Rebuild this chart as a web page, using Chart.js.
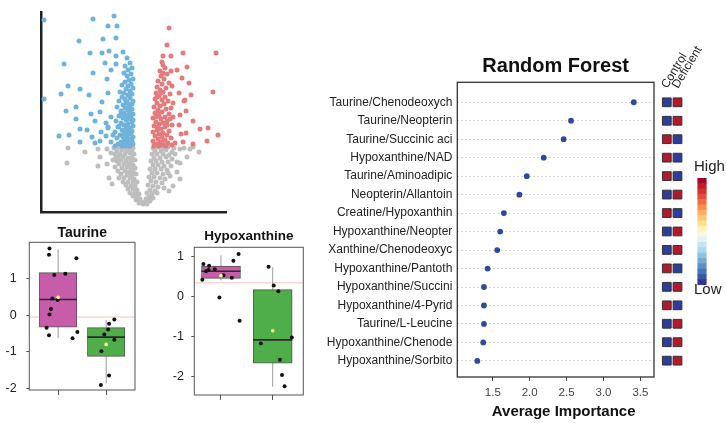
<!DOCTYPE html>
<html><head><meta charset="utf-8">
<script src="https://cdn.jsdelivr.net/npm/chart.js@4"></script>
<style>
html,body{margin:0;padding:0;background:#fff;width:726px;height:423px;overflow:hidden;position:relative;}
canvas{position:absolute;}
</style></head><body>
<canvas id="volcano" style="left:0;top:0" width="240" height="225"></canvas>
<canvas id="taurine" style="left:0;top:225px" width="164" height="175"></canvas>
<canvas id="hypox" style="left:165px;top:228px" width="166" height="177"></canvas>
<canvas id="rf" style="left:320px;top:50px" width="336" height="371"></canvas>
<canvas id="heat" style="left:650px;top:30px" width="60" height="350"></canvas>
<canvas id="cbar" style="left:694px;top:157px" width="32" height="142"></canvas>
<script>
// ---------------- DATA ----------------
// Volcano plot: [log2 fold change, -log10 p]
const volcanoUp = [[2.6,18.4],[2.4,16.7],[2.0,15.6],[2.8,15.6],[4.0,15.9],[7.3,15.9],[2.0,14.7],[4.4,14.5],[2.8,14.1],[3.4,14.2],[3.9,13.4],[4.6,12.9],[7.0,12.0],[3.6,11.9],[4.8,11.7],[4.2,11.2],[4.3,10.1],[5.0,9.1],[5.7,8.3],[6.5,8.4],[7.5,7.7],[6.4,7.1],[5.0,6.8],[3.8,7.8],[4.3,7.9],[3.0,10.9],[4.1,11.1],[3.7,9.7],[3.6,8.7],[4.0,7.0],[3.2,6.9],[2.9,12.6],[3.0,9.5],
[1.9,15.0],[2.2,14.4],[1.7,14.1],[2.4,13.8],[1.8,13.6],[2.1,13.3],[1.5,13.1],[2.6,12.9],[1.9,12.8],[1.4,12.5],[2.3,12.4],[1.7,12.2],[2.0,12.0],[1.3,11.9],[2.7,11.8],[1.6,11.6],[2.2,11.5],[1.2,11.3],[1.9,11.2],[2.5,11.1],[1.4,10.9],[2.1,10.8],[1.7,10.6],[1.1,10.5],[2.8,10.4],[2.3,10.3],[1.5,10.2],[1.9,10.0],[1.2,9.9],[2.6,9.8],[1.6,9.6],[2.2,9.5],[1.0,9.4],[1.8,9.3],[2.4,9.1],[1.3,9.0],[2.0,8.9],[1.6,8.8],[2.9,8.7],[1.1,8.6],[2.2,8.5],[1.8,8.3],[1.4,8.2],[2.6,8.1],[1.0,8.0],[2.0,7.9],[1.6,7.8],[2.4,7.7],[1.2,7.6],[1.9,7.5],[2.8,7.4],[1.5,7.3],[2.2,7.2],[1.0,7.1],[1.7,7.0],[2.5,6.9],[1.3,6.8],[2.0,6.7],[1.1,6.6],[1.6,6.6],[2.3,6.6],[2.9,6.7],[1.4,11.5],[2.0,13.9],[1.6,10.0],[2.1,7.2],[1.8,11.9],[2.4,8.7],[1.3,9.5],[2.7,9.3],[1.5,8.5]];
const volcanoDown = [[-4.8,20.6],[-9.9,19.2],[-5.0,19.3],[-2.9,19.6],[-3.5,18.6],[-2.6,18.6],[-6.4,17.1],[-4.0,17.3],[-2.7,17.4],[-5.3,15.9],[-4.1,15.9],[-3.4,16.1],[-2.7,15.6],[-2.0,16.0],[-7.9,14.8],[-3.8,14.9],[-2.7,14.8],[-5.0,13.9],[-3.2,14.2],[-3.6,13.3],[-7.5,12.6],[-6.3,12.3],[-8.2,11.8],[-5.4,11.7],[-3.5,11.9],[-9.9,11.3],[-4.1,11.0],[-6.7,10.5],[-7.7,10.1],[-5.2,9.8],[-4.3,10.0],[-6.7,9.3],[-4.8,9.1],[-3.7,8.9],[-6.3,8.3],[-5.6,8.2],[-3.5,8.4],[-8.4,7.6],[-7.4,7.7],[-5.1,7.5],[-4.2,8.0],[-3.7,7.6],[-6.3,7.0],[-4.8,6.9],[-4.3,7.1],[-3.0,7.7],[-3.2,7.0],[-3.2,9.5],[-3.5,8.5],
[-1.6,15.4],[-1.3,14.9],[-1.8,14.6],[-1.1,14.4],[-1.5,14.2],[-1.9,13.9],[-1.2,13.8],[-1.6,13.6],[-1.0,13.3],[-1.4,13.2],[-1.8,13.0],[-1.2,12.8],[-2.1,12.7],[-1.5,12.6],[-1.0,12.4],[-1.7,12.3],[-1.3,12.1],[-2.3,12.0],[-1.9,11.9],
[-1.1,11.8],[-1.5,11.7],[-2.1,11.5],[-1.3,11.4],[-1.8,11.3],[-2.4,11.1],[-1.0,11.1],[-1.6,11.0],[-1.2,10.8],[-2.0,10.7],[-1.4,10.6],[-2.6,10.5],[-1.8,10.4],[-1.1,10.3],[-1.5,10.2],[-2.2,10.1],[-1.3,10.0],[-1.9,9.9],[-1.0,9.8],[-1.6,9.7],[-2.4,9.6],[-1.2,9.5],[-2.0,9.4],
[-1.4,9.3],[-1.7,9.2],[-2.7,9.1],[-1.1,9.0],[-2.2,8.9],[-1.5,8.8],[-1.9,8.7],[-1.0,8.6],[-2.5,8.5],[-1.3,8.4],[-1.7,8.3],[-2.1,8.2],[-1.1,8.1],[-2.8,8.0],[-1.5,8.0],[-1.9,7.9],[-1.2,7.8],[-2.3,7.7],[-1.6,7.6],[-1.0,7.5],[-2.0,7.5],[-2.6,7.4],[-1.4,7.3],[-1.8,7.2],[-1.1,7.1],[-2.2,7.0],[-1.5,6.9],[-2.5,6.8],[-1.0,6.8],[-1.9,6.7],[-1.3,6.6],[-2.8,6.6],[-1.7,6.6],[-2.1,6.6],[-1.2,7.3],[-1.6,8.5],[-2.4,8.6],[-1.3,9.9],[-1.8,9.5],[-1.1,10.8],[-2.0,6.9],[-1.4,7.9],[-1.0,9.2],[-2.2,9.8],[-1.7,10.9],[-1.2,6.9]];
const volcanoNS = [[-7.5,6.4],[-7.6,4.9],[-5.8,6.0],[-4.5,6.3],[-4.5,4.6],[-3.6,6.3],[-3.6,4.8],[-3.4,3.4],[-4.3,5.5],[-3.1,2.8],[5.6,6.0],[4.7,6.3],[4.4,5.5],[3.7,4.9],[3.4,4.0],[3.7,3.3],[4.1,6.4],[3.0,2.6],[2.6,2.1],[5.0,6.5],
[-2.9,6.4],[-2.4,6.5],[-1.9,6.4],[-1.4,6.5],[-1.0,6.4],[-2.6,6.1],[-2.1,6.2],[-1.6,6.1],[-1.2,6.2],[-3.2,5.9],[-2.8,5.8],[-2.3,5.8],[-1.8,5.8],[-1.3,5.9],[-0.9,5.8],[-2.5,5.5],[-2.0,5.5],[-1.5,5.4],[-1.1,5.5],[-3.0,5.2],[-2.6,5.1],[-2.2,5.2],[-1.7,5.1],[-1.2,5.1],[-0.8,5.2],[-2.4,4.8],[-1.9,4.8],[-1.4,4.8],[-1.0,4.7],[-2.8,4.5],[-2.1,4.4],[-1.6,4.5],[-1.2,4.4],[-0.8,4.4],[-2.5,4.1],[-1.8,4.1],[-1.4,4.0],[-1.0,4.1],[-2.2,3.8],[-1.6,3.7],[-1.1,3.7],[-0.7,3.8],[-2.4,3.4],[-1.9,3.4],[-1.3,3.4],[-0.9,3.3],[-2.0,3.0],[-1.5,3.0],[-1.0,3.0],[-0.6,3.0],[-1.7,2.7],[-1.2,2.6],[-0.8,2.6],[-1.5,2.3],[-1.0,2.3],[-0.6,2.2],[-1.3,1.9],[-0.8,1.9],[-0.4,1.8],[-1.0,1.6],[-0.6,1.5],[-0.3,1.3],[-0.7,1.2],[-0.2,1.0],[-0.4,0.9],[0.0,0.8],[-2.0,6.8],[-1.5,6.8],[-1.1,6.0],[-2.7,5.4],
[1.0,6.4],[1.5,6.5],[2.0,6.4],[2.5,6.5],[3.1,6.4],[3.7,6.3],[1.2,6.1],[1.8,6.1],[2.3,6.2],[2.9,6.0],[0.9,5.8],[1.4,5.8],[2.0,5.8],[2.6,5.7],[3.2,5.8],[1.1,5.4],[1.7,5.4],[2.3,5.5],[2.9,5.3],[0.8,5.1],[1.3,5.1],[1.9,5.0],[2.5,5.0],[1.0,4.7],[1.5,4.7],[2.1,4.6],[2.8,4.6],[0.7,4.3],[1.2,4.3],[1.8,4.3],[2.4,4.2],[0.9,3.9],[1.4,3.9],[2.0,3.8],[2.7,3.6],[0.6,3.5],[1.1,3.5],[1.7,3.4],[2.2,3.3],[0.8,3.1],[1.3,3.0],[1.9,2.9],[0.5,2.7],[1.0,2.6],[1.5,2.5],[2.1,2.4],[0.7,2.2],[1.2,2.1],[0.4,1.9],[0.9,1.8],[1.4,1.9],[0.6,1.5],[1.0,1.4],[0.3,1.3],[0.7,1.1],[0.2,1.0],[0.4,0.8],[0.1,0.9],[1.6,6.8],[2.2,6.8],[1.1,6.8],[3.4,5.0],[2.5,3.9]];

// Box plots: stats = [lower whisker, Q1, median, Q3, upper whisker]
const boxGroups = ['Control', 'Deficient'];
const taurineCtrlStats = [-0.63, -0.33, 0.43, 1.17, 1.81];
const taurineDefStats  = [-1.87, -1.13, -0.60, -0.34, -0.13];
const taurineMeans = [0.49, -0.80];
const taurineCtrlY = [1.83,1.66,1.56,1.10,1.14,0.46,0.42,0.17,0.02,-0.34,-0.55,-0.46,-0.63];
const taurineCtrlJitter = [-0.18,-0.19,0.38,-0.08,0.15,-0.12,-0.01,-0.15,-0.18,-0.24,-0.19,0.40,0.30];
const taurineDefY = [-0.12,-0.23,-0.39,-0.53,-0.67,-0.99,-1.65,-1.91];
const taurineDefJitter = [0.17,0.06,0.04,-0.04,0.17,-0.10,0.06,-0.11];
const taurineRef = -0.05;
const taurineYTicks = [-2, -1, 0, 1];

const hypoxCtrlStats = [0.41, 0.46, 0.64, 0.77, 1.04];
const hypoxDefStats  = [-2.25, -1.66, -1.08, 0.18, 0.74];
const hypoxMeans = [0.53, -0.85];
const hypoxCtrlY = [0.82,0.78,0.64,0.67,0.69,0.54,0.90,1.07,0.48,0.43,-0.02,-0.60];
const hypoxCtrlJitter = [-0.34,-0.23,-0.29,-0.24,-0.12,0.05,0.24,0.34,0.21,-0.36,-0.03,0.36];
const hypoxDefY = [0.75,0.28,0.14,-1.17,-1.02,-1.58,-1.96,-2.24];
const hypoxDefJitter = [-0.08,0.02,0.11,-0.23,0.37,0.14,0.18,0.23];
const hypoxRef = 0.35;
const hypoxYTicks = [-2, -1, 0, 1];

// Random forest
const rfLabels = ['Taurine/Chenodeoxych','Taurine/Neopterin','Taurine/Succinic aci','Hypoxanthine/NAD','Taurine/Aminoadipic','Neopterin/Allantoin','Creatine/Hypoxanthin','Hypoxanthine/Neopter','Xanthine/Chenodeoxyc','Hypoxanthine/Pantoth','Hypoxanthine/Succini','Hypoxanthine/4-Pyrid','Taurine/L-Leucine','Hypoxanthine/Chenode','Hypoxanthine/Sorbito'];
const rfImportance = [3.41,2.56,2.46,2.19,1.96,1.86,1.65,1.60,1.56,1.43,1.38,1.38,1.38,1.37,1.29];
const rfXTicks = [1.5, 2.0, 2.5, 3.0, 3.5];
const heatGroups = ['Control', 'Deficient'];
const controlLevel   = ['low','low','high','high','high','low','high','low','low','high','low','high','low','low','low'];
const deficientLevel = ['high','high','low','low','low','high','low','high','high','low','high','low','high','high','high'];
const colorbarSteps = ['#A50026','#BF1E2E','#D73027','#E34D34','#F46D43','#F88D52','#FDAE61','#FDC776','#FEE090','#FFF2B3','#F2FAE0','#E0F3F8','#C6E6F0','#ABD9E9','#90C3DE','#74ADD1','#5B92C4','#4575B4','#3A56A4','#313695'];

// ---------------- STYLE ----------------
Chart.defaults.font.family = "'Liberation Sans', Arial, Helvetica, sans-serif";
Chart.defaults.color = '#222';
Chart.defaults.animation = false;
const BLUE = '#6FB2DB', RED = '#E27B7B', GRAY = '#BEBEBE';
const MAG = '#C65CAA', GRN = '#4FAE4A';
const HIGH = '#B3182C', LOW = '#2D3D9C';

const framePlugin = {
  id: 'frame',
  afterDatasetsDraw(chart, args, opts) {
    if (!opts || !opts.show) return;
    const {ctx, chartArea: a} = chart;
    ctx.save();
    ctx.strokeStyle = opts.color || '#333';
    ctx.lineWidth = opts.width || 1;
    ctx.strokeRect(a.left, a.top, a.right - a.left, a.bottom - a.top);
    ctx.restore();
  }
};
// x-axis title drawn with a small horizontal shift (as in the source figure)
const axisTitlePlugin = {
  id: 'axisTitle',
  afterDraw(chart, args, opts) {
    if (!opts || !opts.text) return;
    const {ctx, chartArea: a} = chart;
    ctx.save();
    ctx.font = opts.font;
    ctx.fillStyle = opts.color;
    ctx.textAlign = 'center';
    ctx.textBaseline = 'middle';
    ctx.fillText(opts.text, (a.left + a.right) / 2 + opts.dx, a.bottom + opts.dy);
    ctx.restore();
  }
};
const noInteract = {events: [], responsive: false, animation: false};
const pts = arr => arr.map(p => ({x: p[0], y: p[1]}));
const fixW = w => s => { s.width = w; s.paddingTop = 0; s.paddingBottom = 0; };
const fixH = h => s => { s.height = h; s.paddingLeft = 0; s.paddingRight = 0; };

// ---------------- VOLCANO ----------------
new Chart(document.getElementById('volcano'), {
  type: 'scatter',
  data: {datasets: [
    {data: pts(volcanoUp), backgroundColor: RED, pointRadius: 2.5, borderWidth: 0, clip: false, order: 0},
    {data: pts(volcanoDown), backgroundColor: BLUE, pointRadius: 2.5, borderWidth: 0, clip: false, order: 1},
    {data: pts(volcanoNS), backgroundColor: GRAY, pointRadius: 2.5, borderWidth: 0, clip: false, order: 2}
  ]},
  options: {
    ...noInteract,
    layout: {autoPadding: false, padding: {left: 41, top: 12, right: 14, bottom: 13}},
    plugins: {legend: {display: false}, tooltip: {enabled: false}},
    scales: {
      x: {type: 'linear', min: -10.2, max: 8.3, ticks: {display: false}, grid: {display: false},
          border: {color: '#222', width: 2.5}, afterFit: fixH(0)},
      y: {type: 'linear', min: 0, max: 20, ticks: {display: false}, grid: {display: false},
          border: {color: '#222', width: 2.5}, afterFit: fixW(0)}
    }
  }
});

// ---------------- BOX PLOTS ----------------
function boxChart(id, o) {
  const datasets = [
    {type: 'scatter', order: -1, data: [{x: 1, y: o.means[0]}, {x: 2, y: o.means[1]}], backgroundColor: '#FFFF8A', pointRadius: 1.8, borderWidth: 0},
    {type: 'scatter', order: 0, data: o.ctrlY.map((y, i) => ({x: 1 + o.ctrlJ[i], y})), backgroundColor: '#111', pointRadius: 2, borderWidth: 0},
    {type: 'scatter', order: 0, data: o.defY.map((y, i) => ({x: 2 + o.defJ[i], y})), backgroundColor: '#111', pointRadius: 2, borderWidth: 0},
    {type: 'scatter', order: 1, data: [{x: 1, y: o.ctrl[2]}, {x: 2, y: o.def[2]}], pointStyle: 'line', pointRadius: o.boxPx / 2, borderColor: '#2a2a2a', borderWidth: 1.6, backgroundColor: '#2a2a2a'},
    {type: 'bar', order: 2, data: [{x: 1, y: [o.ctrl[1], o.ctrl[3]]}, {x: 2, y: [o.def[1], o.def[3]]}], backgroundColor: [MAG, GRN], borderColor: '#555', borderWidth: 1, borderSkipped: false, barThickness: o.boxPx, grouped: false},
    {type: 'line', order: 3, data: [{x: 1, y: o.ctrl[0]}, {x: 1, y: o.ctrl[4]}, {x: 1.5, y: null}, {x: 2, y: o.def[0]}, {x: 2, y: o.def[4]}], borderColor: '#9c9c9c', borderWidth: 1, pointRadius: 0, spanGaps: false},
    {type: 'line', order: 4, data: [{x: o.xMin, y: o.ref}, {x: o.xMax, y: o.ref}], borderColor: '#F6C2C2', borderWidth: 1, pointRadius: 0}
  ];
  new Chart(document.getElementById(id), {
    type: 'bar',
    data: {datasets},
    plugins: [framePlugin],
    options: {
      ...noInteract,
      layout: {autoPadding: false, padding: {left: 0, right: o.padRight, top: 0, bottom: 0}},
      plugins: {
        legend: {display: false}, tooltip: {enabled: false},
        title: {display: true, text: o.title, fullSize: false, font: {size: o.titleSize, weight: 'bold'}, color: '#111', padding: {top: o.titlePadTop, bottom: o.titlePadBottom}},
        frame: {show: true, color: '#555', width: 1}
      },
      scales: {
        x: {type: 'linear', min: o.xMin, max: o.xMax, offset: false,
            afterBuildTicks: s => { s.ticks = [{value: 1}, {value: 2}]; },
            ticks: {callback: () => '', padding: 0, autoSkip: false},
            grid: {display: true, offset: false, drawOnChartArea: false, drawTicks: true, tickLength: 5, color: '#555'},
            border: {display: false}, afterFit: fixH(10)},
        y: {type: 'linear', min: o.yMin, max: o.yMax,
            afterBuildTicks: s => { s.ticks = o.yTicks.map(v => ({value: v})); },
            ticks: {font: {size: 12.5}, color: '#222', padding: o.tickPad},
            grid: {display: true, drawOnChartArea: false, drawTicks: true, tickLength: 3, color: '#555'},
            border: {display: false}, afterFit: fixW(29.3)}
      }
    }
  });
}

boxChart('taurine', {
  title: 'Taurine', titleSize: 14, titlePadTop: 0, titlePadBottom: 0.5,
  ctrl: taurineCtrlStats, def: taurineDefStats, means: taurineMeans,
  ctrlY: taurineCtrlY, ctrlJ: taurineCtrlJitter, defY: taurineDefY, defJ: taurineDefJitter,
  ref: taurineRef, yTicks: taurineYTicks, yMin: -2.05, yMax: 2.0, xMin: 0.4, xMax: 2.6,
  boxPx: 37.5, padRight: 29, tickPad: 9.6
});
boxChart('hypox', {
  title: 'Hypoxanthine', titleSize: 13.5, titlePadTop: 0.6, titlePadBottom: 2.5,
  ctrl: hypoxCtrlStats, def: hypoxDefStats, means: hypoxMeans,
  ctrlY: hypoxCtrlY, ctrlJ: hypoxCtrlJitter, defY: hypoxDefY, defJ: hypoxDefJitter,
  ref: hypoxRef, yTicks: hypoxYTicks, yMin: -2.46, yMax: 1.24, xMin: 0.484, xMax: 2.592,
  boxPx: 39, padRight: 27.7, tickPad: 7.4
});

// ---------------- RANDOM FOREST ----------------
new Chart(document.getElementById('rf'), {
  type: 'scatter',
  data: {datasets: [{data: rfImportance.map((v, i) => ({x: v, y: i})), backgroundColor: '#2E4A9F', pointRadius: 2.9, borderWidth: 0}]},
  plugins: [framePlugin, axisTitlePlugin],
  options: {
    ...noInteract,
    layout: {autoPadding: false, padding: {left: 0, right: 2, top: 0, bottom: 0}},
    plugins: {
      legend: {display: false}, tooltip: {enabled: false},
      title: {display: true, text: 'Random Forest', fullSize: false, font: {size: 20, weight: 'bold'}, color: '#111', padding: {top: 4.7, bottom: 3.6}},
      frame: {show: true, color: '#333', width: 1.3},
      axisTitle: {text: 'Average Importance', font: "bold 15px 'Liberation Sans', Arial, sans-serif", color: '#111', dx: 8, dy: 35}
    },
    scales: {
      x: {type: 'linear', min: 1.019, max: 3.684,
          afterBuildTicks: s => { s.ticks = rfXTicks.map(v => ({value: v})); },
          ticks: {callback: v => Number(v).toFixed(1), font: {size: 11.5}, color: '#444', padding: 5.1, autoSkip: false, maxRotation: 0},
          grid: {display: true, drawOnChartArea: false, drawTicks: true, tickLength: 4, color: '#444'},
          border: {display: false},
          afterFit: fixH(44)},
      y: {type: 'linear', reverse: true, min: -1.08, max: 14.87,
          afterBuildTicks: s => { s.ticks = rfLabels.map((_, i) => ({value: i})); },
          ticks: {callback: v => rfLabels[v], font: {size: 12}, color: '#222', padding: 5, autoSkip: false},
          grid: {display: true, drawTicks: false, color: '#d6d6d6', lineWidth: 1},
          border: {display: false, dash: [2, 2]},
          afterFit: fixW(137.3)}
    }
  }
});

// ---------------- HEAT SQUARES ----------------
const lvl = l => (l === 'high' ? HIGH : LOW);
new Chart(document.getElementById('heat'), {
  type: 'scatter',
  data: {labels: heatGroups, datasets: [
    {data: controlLevel.map((l, i) => ({x: heatGroups[0], y: i})), backgroundColor: controlLevel.map(lvl), pointStyle: 'rect', pointRadius: 6.2, borderColor: '#333', borderWidth: 1},
    {data: deficientLevel.map((l, i) => ({x: heatGroups[1], y: i})), backgroundColor: deficientLevel.map(lvl), pointStyle: 'rect', pointRadius: 6.2, borderColor: '#333', borderWidth: 1}
  ]},
  options: {
    ...noInteract,
    layout: {autoPadding: false, padding: {left: 11.45, right: 27.15, top: 0, bottom: 10.1}},
    plugins: {legend: {display: false}, tooltip: {enabled: false}},
    scales: {
      x: {type: 'category', labels: heatGroups, position: 'top', offset: true,
          ticks: {minRotation: 59, maxRotation: 59, autoSkip: false, font: {size: 12}, color: '#222', padding: 2, labelOffset: 10},
          grid: {display: false, drawTicks: false}, border: {display: false},
          afterFit: fixH(63.07)},
      y: {type: 'linear', reverse: true, min: -0.5, max: 14.5, display: false}
    }
  }
});

// ---------------- COLOR BAR ----------------
const barSteps = colorbarSteps.slice().reverse();
new Chart(document.getElementById('cbar'), {
  type: 'bar',
  data: {labels: ['', ' '], datasets: barSteps.map(c => ({data: [1, null], backgroundColor: c, borderWidth: 0, barThickness: 8.5}))},
  options: {
    ...noInteract,
    layout: {autoPadding: false, padding: {left: 0, right: 0, top: 0, bottom: 0}},
    plugins: {
      legend: {display: false}, tooltip: {enabled: false},
      title: {display: true, text: 'High', align: 'start', font: {size: 15, weight: 'normal'}, color: '#222', padding: {top: 1, bottom: 2}},
      subtitle: {display: true, text: 'Low', position: 'bottom', align: 'start', font: {size: 15, weight: 'normal'}, color: '#222', padding: {top: -4, bottom: 0}}
    },
    scales: {
      x: {stacked: true, display: false},
      y: {stacked: true, display: false, min: 0, max: colorbarSteps.length}
    }
  }
});
</script>
</body></html>
